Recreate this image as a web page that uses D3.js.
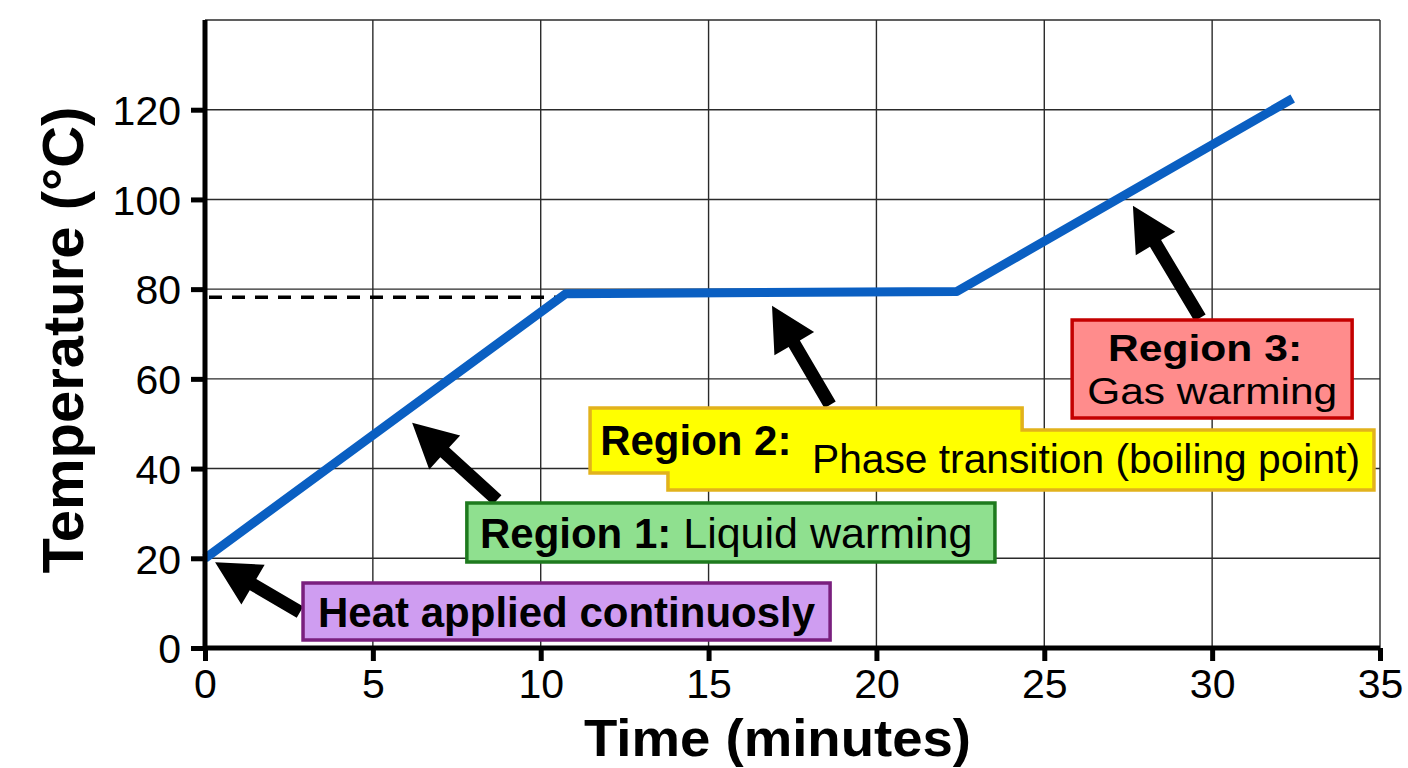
<!DOCTYPE html>
<html>
<head>
<meta charset="utf-8">
<script src="https://cdn.jsdelivr.net/npm/d3@7"></script>
<style>
  html, body { margin: 0; padding: 0; background: #fff; }
  svg { display: block; font-family: "Liberation Sans", Arial, sans-serif; }
</style>
</head>
<body>
<svg id="chart" width="1408" height="768"></svg>
<script>
// heating curve
const timeMin = [0, 10.75, 22.4, 32.4];
const tempC = [20, 79, 79.5, 122.5];
const boilingPoint = 78.2;

const xTicks = [0, 5, 10, 15, 20, 25, 30, 35];
const yTicks = [0, 20, 40, 60, 80, 100, 120];
const xDomain = [0, 35];
const yDomain = [0, 140];

const xTitle = 'Time (minutes)';
const yTitle = 'Temperature (°C)';

const width = 1408;
const height = 768;
const margin = { top: 20, right: 28, bottom: 120, left: 205 };

const svg = d3.select('#chart');

const x = d3.scaleLinear().domain(xDomain).range([margin.left, width - margin.right]);
const y = d3.scaleLinear().domain(yDomain).range([height - margin.bottom, margin.top]);

// grid
const grid = svg.append('g').attr('stroke', '#2a2a2a').attr('stroke-width', 1.4);
grid.selectAll('line.v')
  .data(xTicks.slice(1))
  .join('line')
  .attr('class', 'v')
  .attr('x1', d => x(d)).attr('x2', d => x(d))
  .attr('y1', y(yDomain[0])).attr('y2', y(yDomain[1]));
grid.selectAll('line.h')
  .data(yTicks.slice(1).concat([yDomain[1]]))
  .join('line')
  .attr('class', 'h')
  .attr('x1', x(xDomain[0])).attr('x2', x(xDomain[1]))
  .attr('y1', d => y(d)).attr('y2', d => y(d));

// dashed boiling point guide
svg.append('line')
  .attr('x1', x(0) + 4).attr('x2', x(timeMin[1]) - 10)
  .attr('y1', y(boilingPoint)).attr('y2', y(boilingPoint))
  .attr('stroke', '#000')
  .attr('stroke-width', 3.5)
  .attr('stroke-dasharray', '13,10');

// the curve
const points = timeMin.map((t, i) => [t, tempC[i]]);
svg.append('path')
  .datum(points)
  .attr('fill', 'none')
  .attr('stroke', '#0a5fc2')
  .attr('stroke-width', 9)
  .attr('stroke-linejoin', 'round')
  .attr('d', d3.line().x(d => x(d[0])).y(d => y(d[1])));

// axes
const xAxis = svg.append('g')
  .attr('transform', `translate(0,${y(0)})`)
  .call(d3.axisBottom(x).tickValues(xTicks).tickSize(13).tickPadding(6).tickFormat(d3.format('d')));
const yAxis = svg.append('g')
  .attr('transform', `translate(${x(0)},0)`)
  .call(d3.axisLeft(y).tickValues(yTicks).tickSize(14).tickPadding(10).tickFormat(d3.format('d')));

[xAxis, yAxis].forEach(g => {
  g.select('.domain').attr('stroke', '#000').attr('stroke-width', 5);
  g.selectAll('.tick line').attr('stroke', '#000').attr('stroke-width', 5);
  g.selectAll('.tick text')
    .attr('fill', '#000')
    .attr('font-family', '"Liberation Sans", Arial, sans-serif')
    .attr('font-size', 41);
});
yAxis.select('.domain').attr('d', `M0,${y(0)}V${y(yDomain[1])}`);
xAxis.select('.domain').attr('d', `M${x(0)},0H${x(xDomain[1])}`);
yAxis.selectAll('.tick text').attr('dy', '0.36em');
xAxis.selectAll('.tick text').attr('dy', '0.76em');

// axis titles
svg.append('text')
  .attr('x', (x(0) + x(35)) / 2 - 15)
  .attr('y', 756)
  .attr('text-anchor', 'middle')
  .attr('font-weight', 'bold')
  .attr('font-size', 52)
  .attr('textLength', 387)
  .attr('lengthAdjust', 'spacingAndGlyphs')
  .text(xTitle);

svg.append('text')
  .attr('transform', `translate(83,${340}) rotate(-90)`)
  .attr('text-anchor', 'middle')
  .attr('font-weight', 'bold')
  .attr('font-size', 58)
  .text(yTitle);

// annotations (box corners and arrow ends in data units)
function arrow(from, to) {
  const x0 = x(from[0]), y0 = y(from[1]);
  const x1 = x(to[0]), y1 = y(to[1]);
  const dx = x1 - x0, dy = y1 - y0;
  const len = Math.hypot(dx, dy);
  const ux = dx / len, uy = dy / len;
  const nx = -uy, ny = ux;
  const headLen = 44, headW = 23, shaftW = 6.5;
  const bx = x1 - ux * headLen, by = y1 - uy * headLen;
  const pts = [
    [x0 + nx * shaftW, y0 + ny * shaftW],
    [bx + nx * shaftW, by + ny * shaftW],
    [bx + nx * headW, by + ny * headW],
    [x1, y1],
    [bx - nx * headW, by - ny * headW],
    [bx - nx * shaftW, by - ny * shaftW],
    [x0 - nx * shaftW, y0 - ny * shaftW]
  ];
  svg.append('path')
    .attr('d', 'M' + pts.map(p => p.join(',')).join('L') + 'Z')
    .attr('fill', '#000');
}

function box(corners, fill, stroke) {
  svg.append('path')
    .attr('d', 'M' + corners.map(c => `${x(c[0])},${y(c[1])}`).join('L') + 'Z')
    .attr('fill', fill)
    .attr('stroke', stroke)
    .attr('stroke-width', 3.5)
    .attr('stroke-linejoin', 'miter');
}

function rect(x0, x1, y0, y1) {
  return [[x0, y0], [x1, y0], [x1, y1], [x0, y1]];
}

function label(parts, at, anchor, size, fitWidth) {
  const t = svg.append('text')
    .attr('x', x(at[0]))
    .attr('y', y(at[1]))
    .attr('text-anchor', anchor || 'start')
    .attr('fill', '#000');
  if (fitWidth) t.attr('textLength', fitWidth).attr('lengthAdjust', 'spacingAndGlyphs');
  parts.forEach(p => {
    t.append('tspan')
      .attr('font-weight', p.bold ? 'bold' : 'normal')
      .attr('font-size', size || (p.bold ? 42 : 43))
      .text(p.text);
  });
}

// heat applied
arrow([2.83, 8.0], [0.3, 19.1]);
box(rect(2.92, 18.62, 1.78, 14.49), '#cf9df1', '#7a1f7e');
label([{ text: 'Heat applied continuosly', bold: true }], [10.77, 4.6], 'middle');

// region 1
arrow([8.7, 33.0], [6.17, 50.2]);
box(rect(7.8, 23.53, 19.17, 32.32), '#8fe08f', '#1e7a1e');
label([{ text: 'Region 1:', bold: true }, { text: ' Liquid warming' }], [8.19, 22.3]);

// region 2
arrow([18.62, 54.2], [16.89, 76.3]);
box([[11.47, 53.5], [24.34, 53.5], [24.34, 48.6], [34.82, 48.6], [34.82, 35.2],
     [13.79, 35.2], [13.79, 39.0], [11.47, 39.0]], '#ffff00', '#e2b21c');
label([{ text: 'Region 2:', bold: true }], [11.77, 43.0]);
label([{ text: 'Phase transition (boiling point)' }], [18.08, 39.0], 'start', 41, 548);

// region 3
arrow([29.64, 73.6], [27.64, 98.6]);
box(rect(25.83, 34.17, 51.27, 73.12), '#ff8c8c', '#c40000');
label([{ text: 'Region 3:', bold: true }], [29.79, 64.0], 'middle', 37, 194);
label([{ text: 'Gas warming' }], [30.0, 54.5], 'middle', 37, 250);
</script>
</body>
</html>
